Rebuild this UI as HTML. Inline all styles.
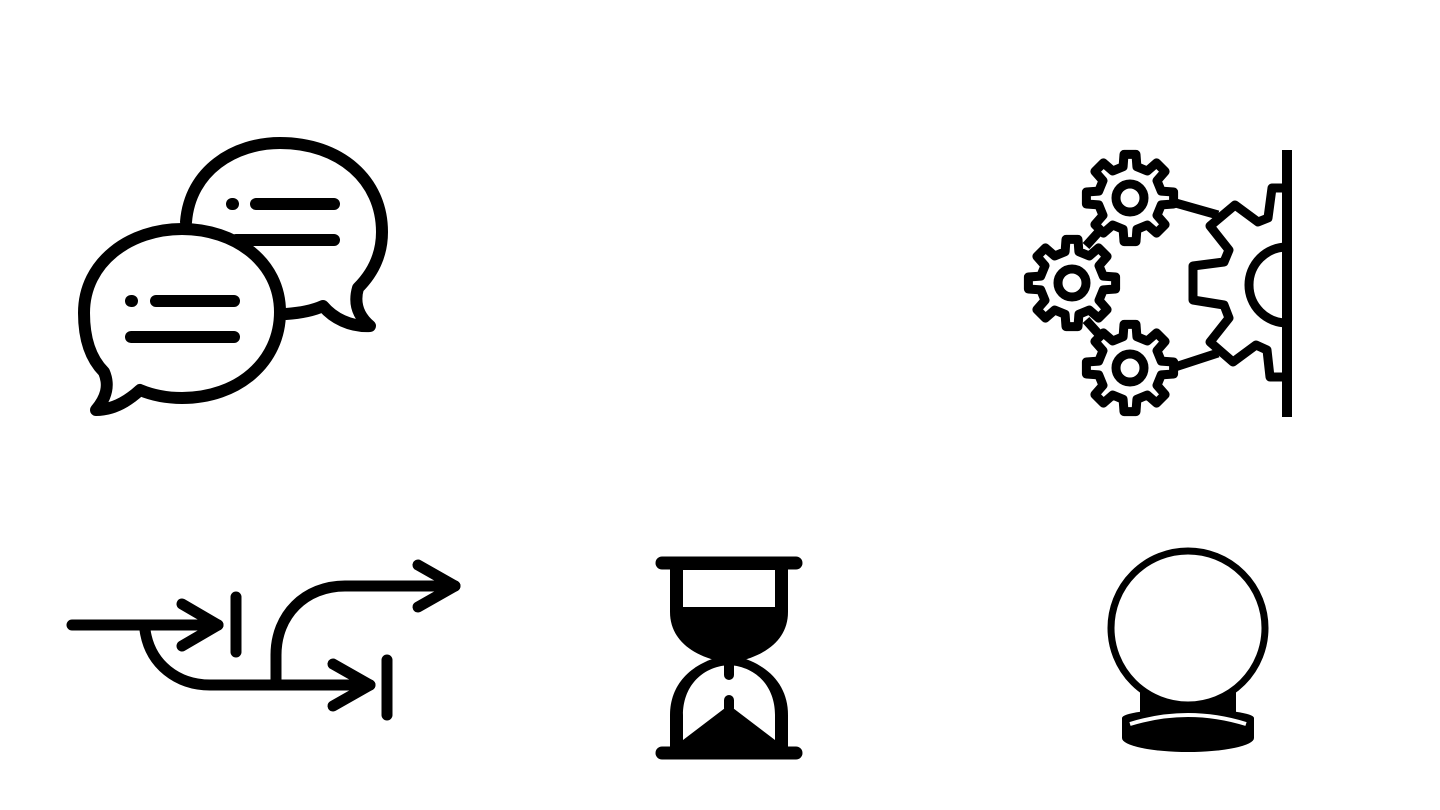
<!DOCTYPE html>
<html><head><meta charset="utf-8"><style>html,body{margin:0;padding:0;background:#fff;width:1440px;height:810px;overflow:hidden}</style></head>
<body>
<svg id="s" width="1440" height="810" viewBox="0 0 1440 810" xmlns="http://www.w3.org/2000/svg">
<g fill="none" stroke="#000" stroke-width="12" stroke-linecap="round" stroke-linejoin="round">
  <path d="M186,222 C190,170 235,143 280,143 C340,143 382,180 382,232 C382,255 373,273 358,288 C354,302 357,315 370,326 C350,327 333,318 323,306 C312,311 300,313 286,314"/>
  <line x1="232" y1="204" x2="233" y2="204"/><line x1="256" y1="204" x2="334" y2="204"/>
  <line x1="236" y1="240" x2="334" y2="240"/>
  <path d="M182,229 C235,229 280,262 280,312 C280,362 238,398 182,398 C165,398 152,395 140,390 C127,402 112,410 96,410 C106,398 110,386 104,372 C90,358 84,338 84,313 C84,262 130,229 182,229 Z"/>
  <line x1="131" y1="301" x2="132" y2="301"/><line x1="156" y1="301" x2="234" y2="301"/>
  <line x1="131" y1="337" x2="234" y2="337"/>
</g>
<g id="gears" fill="none" stroke="#000" stroke-width="9" stroke-linejoin="round">
  <line x1="1287" y1="150" x2="1287" y2="417" stroke-width="10"/>
  <path d="M1287,188 L1272,188 L1268,218 L1258,222 L1235,205 L1210,226 L1229,250 L1224,262 L1193,266 L1193,300 L1224,305 L1229,318 L1210,342 L1233,362 L1256,345 L1267,350 L1270,377 L1287,377"/>
  <path d="M1287,247 A38,38 0 0 0 1287,323"/>
  <line x1="1172" y1="202" x2="1218" y2="215"/>
  <line x1="1172" y1="368" x2="1218" y2="353"/>
  <line x1="1086" y1="246" x2="1104" y2="226"/>
  <line x1="1086" y1="320" x2="1104" y2="340"/>
</g>
<g fill="none" stroke="#000" stroke-width="11" stroke-linecap="round" stroke-linejoin="round">
  <line x1="72" y1="625" x2="218" y2="625"/>
  <polyline points="182,604 218,625 182,646"/>
  <line x1="236" y1="597" x2="236" y2="652"/>
  <path d="M145,630 C150,665 178,685 210,685 L370,685"/>
  <polyline points="333,664 370,685 333,706"/>
  <line x1="387" y1="660" x2="387" y2="715"/>
  <path d="M276,680 L276,655 C276,615 305,586 345,586 L455,586"/>
  <polyline points="418,565 455,586 418,607"/>
</g>
<g>
  <line x1="662" y1="563" x2="796" y2="563" stroke="#000" stroke-width="13" stroke-linecap="round"/>
  <line x1="662" y1="753" x2="796" y2="753" stroke="#000" stroke-width="13" stroke-linecap="round"/>
  <path d="M670,563 L670,612 C670,638 690,655 722,662 L736,662 C768,655 788,638 788,612 L788,563 Z" fill="#000"/>
  <rect x="683" y="570" width="92" height="37" fill="#fff"/>
  <path d="M722,656 C690,664 670,685 670,715 L670,753 L788,753 L788,715 C788,685 768,664 736,656 Z" fill="#000"/>
  <path d="M729,665 C700,667 683,688 683,715 L683,740 L729,705 L775,740 L775,715 C775,688 758,667 729,665 Z" fill="#fff"/>
  <line x1="729" y1="662" x2="729" y2="675" stroke="#000" stroke-width="10" stroke-linecap="round"/>
  <line x1="729" y1="700" x2="729" y2="708" stroke="#000" stroke-width="10" stroke-linecap="round"/>
</g>
<g>
  <ellipse cx="1188" cy="738" rx="66" ry="14" fill="#000"/>
  <rect x="1122" y="718" width="132" height="20" fill="#000"/>
  <ellipse cx="1188" cy="718" rx="66" ry="9" fill="#000"/>
  <rect x="1140" y="688" width="96" height="26" fill="#000"/>
  <path d="M1130,724 Q1188,706 1246,724" fill="none" stroke="#fff" stroke-width="4"/>
  <circle cx="1188" cy="628" r="77" fill="#fff" stroke="#000" stroke-width="7"/>
</g>
</svg>
<script>
var svg=document.getElementById('gears');
var ns='http://www.w3.org/2000/svg';
var centers=[[1130,198],[1072,283],[1130,368]];
centers.forEach(function(c,k){
  var d='',n=8,ro=44,ri=32;
  for(var i=0;i<n;i++){
    var a0=(i/n)*2*Math.PI, w=Math.PI/n;
    var pts=[[ri,a0-w*0.55],[ro,a0-w*0.35],[ro,a0+w*0.35],[ri,a0+w*0.55]];
    pts.forEach(function(p,j){
      var x=c[0]+p[0]*Math.cos(p[1]), y=c[1]+p[0]*Math.sin(p[1]);
      d+=(i===0&&j===0?'M':'L')+x.toFixed(1)+','+y.toFixed(1)+' ';
    });
  }
  var g=document.createElementNS(ns,'path');
  g.setAttribute('d',d+'Z');
  g.setAttribute('fill','#fff');
  
  
  svg.appendChild(g);
  var r=document.createElementNS(ns,'circle');
  r.setAttribute('cx',c[0]);r.setAttribute('cy',c[1]);r.setAttribute('r',14);
  
  
  svg.appendChild(r);
});
</script>
</body></html>
